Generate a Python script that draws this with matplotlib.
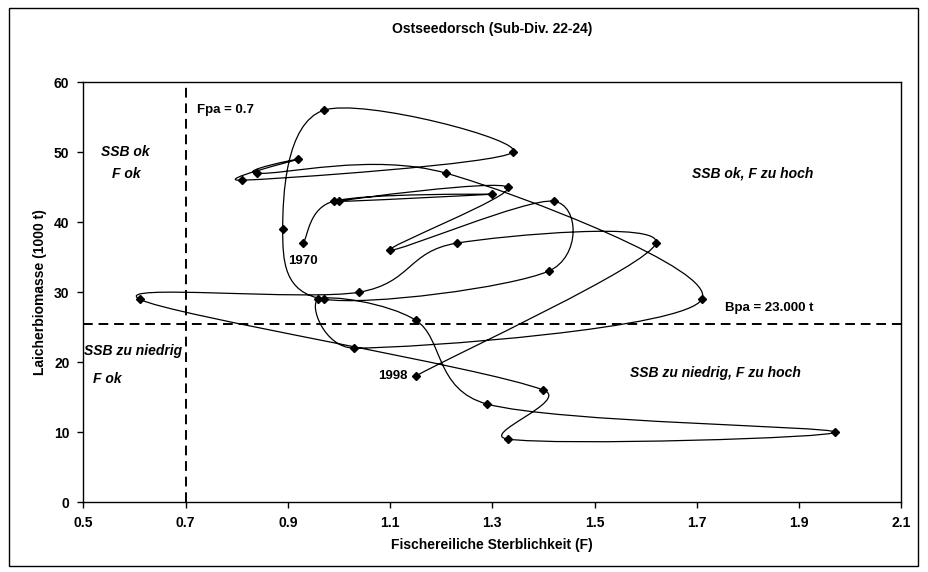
import matplotlib
matplotlib.use("Agg")
import matplotlib.pyplot as plt
import numpy as np
from matplotlib.path import Path
from matplotlib.patches import PathPatch, Rectangle

plt.rcParams["font.family"] = ["Liberation Sans", "DejaVu Sans"]
plt.rcParams["font.weight"] = "bold"

# Fischereiliche Sterblichkeit (F) und Laicherbiomasse (1000 t), 1970-1998
years = list(range(1970, 1999))
f_vals = [0.93, 0.99, 1.30, 1.00, 1.33, 1.10, 1.42, 1.41, 0.97, 0.89,
          0.97, 1.34, 0.81, 0.92, 0.84, 1.21, 1.71, 1.03, 0.96, 1.15,
          1.29, 1.97, 1.33, 1.40, 0.61, 1.04, 1.23, 1.62, 1.15]
ssb_vals = [37, 43, 44, 43, 45, 36, 43, 33, 29, 39,
            56, 50, 46, 49, 47, 47, 29, 22, 29, 26,
            14, 10, 9, 16, 29, 30, 37, 37, 18]

fpa = 0.7
bpa_line = 25.5

xticks = [0.5, 0.7, 0.9, 1.1, 1.3, 1.5, 1.7, 1.9, 2.1]
yticks = [0, 10, 20, 30, 40, 50, 60]


def smooth_path(xs, ys, sx, sy):
    # excel-like smoothed line, bezier control points in pixel space
    P = np.column_stack([np.array(xs) * sx, np.array(ys) * sy])
    n = len(P)
    verts = [P[0]]
    codes = [Path.MOVETO]
    for i in range(n - 1):
        p0 = P[i - 1] if i > 0 else P[i]
        p1 = P[i]
        p2 = P[i + 1]
        p3 = P[i + 2] if i + 2 < n else P[i + 1]
        d12 = np.hypot(*(p2 - p1))
        d02 = np.hypot(*(p2 - p0))
        d13 = np.hypot(*(p3 - p1))
        f0 = min(1 / 6, 0.5 * d12 / d02) if d02 > 0 else 1 / 6
        f1 = min(1 / 6, 0.5 * d12 / d13) if d13 > 0 else 1 / 6
        c1 = p1 + f0 * (p2 - p0)
        c2 = p2 - f1 * (p3 - p1)
        verts += [c1, c2, p2]
        codes += [Path.CURVE4] * 3
    verts = np.array(verts) / np.array([sx, sy])
    return Path(verts, codes)


fig = plt.figure(figsize=(9.29, 5.72), dpi=100)
W, H = 929, 572
ax = fig.add_axes([83.3 / W, 1 - 502 / H, (901.3 - 83.3) / W, (502 - 82.3) / H])

ax.set_xlim(0.5, 2.1)
ax.set_ylim(0, 60)
ax.set_xticks(xticks)
ax.set_yticks(yticks)
ax.set_xticklabels(["0.5", "0.7", "0.9", "1.1", "1.3", "1.5", "1.7", "1.9", "2.1"])
ax.tick_params(direction="out", length=4, width=1, labelsize=10, pad=6)
for s in ax.spines.values():
    s.set_linewidth(1)
    s.set_color("black")

# reference lines
ax.axvline(fpa, color="black", linestyle=(0, (5, 3)), linewidth=1.4)
ax.axhline(bpa_line, color="black", linestyle=(0, (5, 3)), linewidth=1.4)

sx = 511.5
sy = 7.0
path = smooth_path(f_vals, ssb_vals, sx, sy)
ax.add_patch(PathPatch(path, facecolor="none", edgecolor="black", linewidth=0.9))
ax.plot(f_vals, ssb_vals, linestyle="none", marker="D", markersize=4.5,
        color="black")

ax.text(f_vals[0], ssb_vals[0] - 2.6, str(years[0]), ha="center", va="center",
        fontsize=9.5, fontweight="bold")
ax.text(f_vals[-1] - 0.015, ssb_vals[-1], str(years[-1]), ha="right", va="center",
        fontsize=9.5, fontweight="bold")

ax.text(0.722, 56.0, "Fpa = 0.7", ha="left", va="center", fontsize=9.5)
ax.text(1.756, 27.7, "Bpa = 23.000 t", ha="left", va="center", fontsize=9.5)
ax.text(0.582, 50.0, "SSB ok", ha="center", va="center", fontsize=10, style="italic")
ax.text(0.584, 46.9, "F ok", ha="center", va="center", fontsize=10, style="italic")
ax.text(0.597, 21.6, "SSB zu niedrig", ha="center", va="center", fontsize=10,
        style="italic")
ax.text(0.546, 17.6, "F ok", ha="center", va="center", fontsize=10, style="italic")
ax.text(1.690, 47.0, "SSB ok, F zu hoch", ha="left", va="center", fontsize=10,
        style="italic")
ax.text(1.570, 18.4, "SSB zu niedrig, F zu hoch", ha="left", va="center",
        fontsize=10, style="italic")

fig.text(492 / W, 1 - 29 / H, "Ostseedorsch (Sub-Div. 22-24)", ha="center",
         va="center", fontsize=10, fontweight="bold")
fig.text(492 / W, 1 - 545 / H, "Fischereiliche Sterblichkeit (F)", ha="center",
         va="center", fontsize=10, fontweight="bold")
fig.text(40 / W, 1 - 292 / H, "Laicherbiomasse (1000 t)", ha="center",
         va="center", rotation=90, fontsize=10, fontweight="bold")

fig.patches.append(Rectangle((9 / W, 1 - 566 / H), 909 / W, 558 / H,
                             transform=fig.transFigure, fill=False,
                             edgecolor="black", linewidth=1))

fig.savefig("out.png", dpi=100)
